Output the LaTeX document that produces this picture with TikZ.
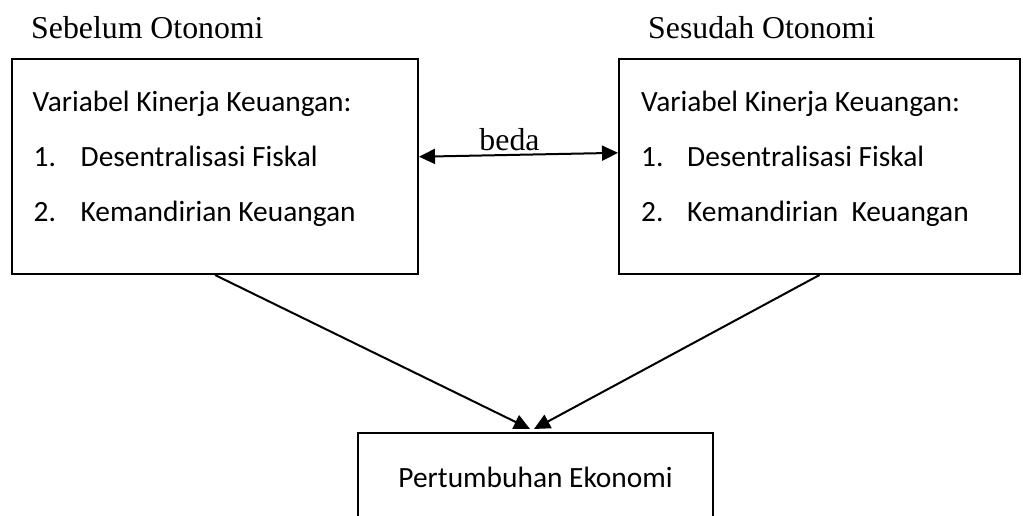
\documentclass[tikz,border=0pt]{standalone}
\usepackage{fontspec}
\setmainfont{Liberation Serif}
\newfontfamily\calib{Carlito}
\usetikzlibrary{arrows.meta,calc}
\begin{document}
\begin{tikzpicture}[x=1pt,y=1pt,
  boxnode/.style={draw, line width=2pt, inner sep=0pt, minimum height=215pt},
  bodytext/.style={font=\calib\fontsize{29.4}{34}\selectfont, inner sep=0pt, anchor=base west},
  titletext/.style={font=\fontsize{31.8}{38}\selectfont, inner sep=0pt, anchor=base west},
  conn/.style={line width=2pt, -{Triangle[length=16pt,width=15pt]}},
  dconn/.style={line width=2pt, {Triangle[length=16pt,width=15pt]}-{Triangle[length=16pt,width=15pt]}}]
\useasboundingbox (0,0) rectangle (1023,-516);
\clip (0,0) rectangle (1023,-516);
\fill[white] (0,0) rectangle (1023,-516);

% titles
\node[titletext] (tL) at (31,-39) {Sebelum Otonomi};
\node[titletext] (tR) at (648,-39) {Sesudah Otonomi};

% boxes
\node[boxnode, minimum width=406pt] (L) at (215,-166.5) {};
\node[boxnode, minimum width=401pt] (R) at (819.5,-166.5) {};
\node[draw, line width=2pt, inner sep=0pt, minimum width=355pt, minimum height=120pt, anchor=north] (B) at (535.5,-432) {};

% left box text
\node[bodytext] (L1) at ($(L.north west)+(21.5,-53.5)$) {Variabel Kinerja Keuangan:};
\node[bodytext] (L2) at ($(L.north west)+(22.5,-108.5)$) {\makebox[47pt][l]{1.}Desentralisasi Fiskal};
\node[bodytext] (L3) at ($(L.north west)+(22.5,-163)$) {\makebox[47pt][l]{2.}Kemandirian Keuangan};

% right box text
\node[bodytext] (R1) at ($(R.north west)+(23,-53.5)$) {Variabel Kinerja Keuangan:};
\node[bodytext] (R2) at ($(R.north west)+(23,-108.5)$) {\makebox[46pt][l]{1.}Desentralisasi Fiskal};
\node[bodytext] (R3) at ($(R.north west)+(23,-163)$) {\makebox[46pt][l]{2.}Kemandirian\ \ Keuangan};

% bottom text
\node[bodytext, anchor=base] (Bt) at (535.5,-487) {Pertumbuhan Ekonomi};

% beda arrow
\coordinate (ba) at ($(L.north east)!0.455!(L.south east)$);
\coordinate (bb) at ($(R.north west)!0.437!(R.south west)$);
\draw[dconn] (ba) -- (bb);
\node[titletext, anchor=base] (beda) at (509.5,-150) {beda};

% arrows to bottom box
\draw[conn] (L.south) -- ($(B.north)+(-5.5,3)$);
\draw[conn] (R.south) -- ($(B.north)+(-1.5,3)$);
\end{tikzpicture}
\end{document}
